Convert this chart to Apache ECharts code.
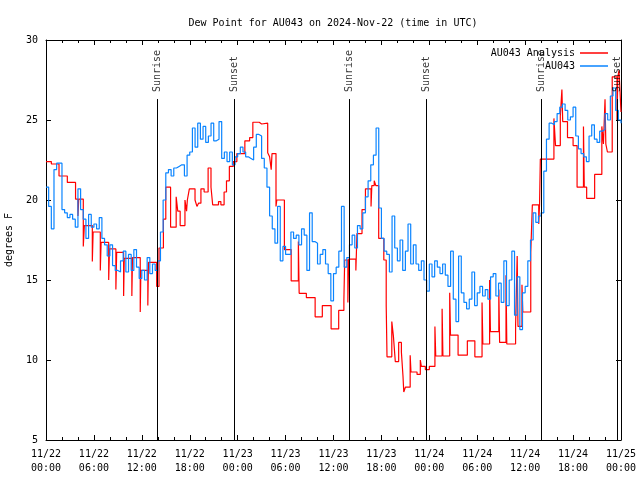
<!DOCTYPE html>
<html>
<head>
<meta charset="utf-8">
<script src="https://cdn.jsdelivr.net/npm/echarts@6/dist/echarts.min.js"></script>
<style>html,body{margin:0;padding:0;background:#fff}#c{width:640px;height:480px}</style>
</head>
<body>
<div id="c"></div>
<script>
// ---- data ----
const titleText = 'Dew Point for AU043 on 2024-Nov-22 (time in UTC)';
const xTickLabels = ['11/22\n00:00','11/22\n06:00','11/22\n12:00','11/22\n18:00','11/23\n00:00','11/23\n06:00','11/23\n12:00','11/23\n18:00','11/24\n00:00','11/24\n06:00','11/24\n12:00','11/24\n18:00','11/25\n00:00'];
const yTicks = [5,10,15,20,25,30];
// red analysis: step change points (hours since 11/22 00:00 UTC) and values
const redHours = [0,0.67,1.63,2.67,3.7,4.0,4.1,4.67,4.8,5.8,5.9,6.8,6.9,7.85,7.95,8.75,8.85,9.72,9.8,10.75,10.83,11.8,11.88,12.75,12.83,13.86,14.15,14.7,15.0,15.6,16.3,16.5,16.8,17.4,17.6,17.7,17.95,18.66,18.9,19.1,19.4,19.8,20.3,20.66,20.87,21.6,21.9,22.3,22.6,22.96,23.45,23.9,24.9,25.5,25.9,26.7,27.0,27.76,28.0,28.2,28.3,28.8,28.9,29.85,30.7,31.6,31.7,32.6,33.7,34.6,35.7,36.65,37.3,37.4,37.8,37.9,38.8,38.94,39.57,40.0,40.7,40.8,41.1,41.3,41.66,42.3,42.6,42.7,43.3,43.5,43.74,44.16,44.5,44.7,44.8,45.0,45.6,45.7,46.46,46.87,47.0,47.5,48.0,48.7,48.8,49.6,49.7,50.55,50.65,51.6,52.76,53.7,54.6,54.7,55.55,55.65,56.7,56.8,57.6,57.7,58.8,59.0,59.1,59.6,59.7,60.7,60.9,61.7,61.8,61.9,63.6,63.8,64.4,64.6,64.7,65.3,66.0,66.5,67.3,67.4,67.7,68.7,69.6,69.8,70.0,70.1,70.3,70.9,71.5,71.6,71.75,72];
const redVals = [22.4,22.25,21.5,21.1,20.06,19.0,20.06,17.1,18.4,16.15,18.0,15.6,17.35,15.0,16.94,14.4,16.73,14.0,16.35,14.0,16.4,13.0,15.6,13.4,16.1,14.6,17.0,18.8,20.8,18.3,20.2,19.3,18.4,20.0,19.3,20.0,20.7,20.0,19.6,19.8,20.7,20.5,22.0,20.8,19.7,19.9,19.7,20.5,21.2,22.1,22.4,22.9,23.7,23.9,24.86,24.75,24.8,22.96,22.7,21.9,22.9,19.6,20.0,16.9,14.94,17.4,14.17,13.9,12.7,13.4,11.94,13.1,13.75,16.25,13.6,16.3,15.6,17.9,19.4,20.7,19.6,20.9,21.2,20.9,17.6,16.25,13.4,10.2,12.4,11.5,9.9,11.1,10.5,9.0,8.0,8.3,10.3,9.25,9.1,10.0,9.6,9.4,9.6,12.1,10.25,13.2,10.25,14.2,11.56,10.3,11.2,10.2,13.6,11.0,15.0,11.77,14.4,11.1,15.3,11.0,12.1,16.5,12.1,14.7,13.0,16.7,19.7,18.5,19.7,22.56,25.1,23.4,25.25,26.9,24.9,23.9,23.4,20.8,24.6,20.8,20.1,21.6,24.6,23.5,26.3,23.5,23.0,27.7,25.0,27.7,28.1,25.5];
// blue observations: one value every 20 minutes from 11/22 00:00
const blueStepHours = 1/3;
const blueVals = [
20.8,19.6,18.2, 21.9,22.3,22.3, 19.4,19.2,18.9, 19.1,18.8,18.3, 20.7,19.4,18.8, 17.6,19.1,18.3,
18.5,18.2,18.9, 17.6,17.2,16.5, 17.2,15.9,15.6, 15.5,16.2,16.8, 15.5,16.6,15.6, 16.9,15.8,15.1,
15.6,15.0,16.4, 15.4,16.0,15.6, 16.2,18.0,20.0, 21.7,21.9,21.5, 22.0,22.1,22.2, 22.2,21.5,22.8,
23.0,24.5,23.3, 24.8,23.8,24.6, 23.6,24.0,24.8, 23.7,23.8,24.9, 22.6,23.0,22.4, 23.0,22.2,22.7,
22.9,23.3,23.0, 22.7,22.6,22.5, 23.3,24.1,24.0, 22.6,22.0,20.8, 19.0,18.2,17.3, 19.6,16.2,17.1,
16.6,16.6,18.0, 17.6,17.8,17.2, 18.2,17.8,15.6, 19.2,17.4,17.3, 16.0,16.6,16.9, 16.0,15.4,13.7,
15.4,15.8,16.8, 19.6,15.8,16.4, 17.2,17.8,17.0, 18.4,18.2,19.2, 20.2,21.2,22.2, 22.8,24.5,19.5,
17.6,16.8,16.6, 15.5,19.0,17.0, 16.2,17.5,15.6, 16.8,18.5,16.0, 17.2,16.0,15.6, 16.2,15.0,14.3,
16.0,15.2,16.2, 15.8,15.4,16.0, 15.3,14.6,16.8, 13.8,12.4,16.5, 14.2,13.6,13.2, 13.8,15.5,13.4,
14.2,14.6,14.0, 14.4,13.8,15.2, 15.4,14.0,14.8, 13.6,16.2,13.4, 15.0,16.8,12.8, 15.2,11.9,14.2,
14.6,16.2,17.5, 19.2,18.6,19.0, 19.2,21.8,23.8, 24.8,24.7,24.9, 25.4,25.8,26.0, 25.6,25.0,25.2,
25.8,24.0,23.2, 22.9,22.7,22.4, 24.0,24.7,23.8, 23.6,24.3,24.4, 25.4,25.0,26.5, 27.0,25.6,25.0,
24.8];
const sunHours = [13.94, 23.6, 38.0, 47.65, 62.0, 71.55];
const sunNames = ['Sunrise','Sunset','Sunrise','Sunset','Sunrise','Sunset'];
const seriesNames = ['AU043 Analysis','AU043'];

// ---- chart ----
const FONT = 'DejaVu Sans Mono';
const redData = redHours.map((h,i)=>[h, redVals[i]]);
const blueData = blueVals.map((v,i)=>[i*blueStepHours, v]);
const LINE_TOP = 26.31, LABEL_Y = 26.75;

const xBase = {
  type:'value', min:0, max:72, interval:6,
  axisLine:{show:true, onZero:false, lineStyle:{color:'#000', width:1}},
  axisTick:{show:true, inside:true, length:5, lineStyle:{color:'#000'}},
  minorTick:{show:true, splitNumber:3, length:3, lineStyle:{color:'#000'}},
  splitLine:{show:false}, minorSplitLine:{show:false}
};
const yBase = {
  type:'value', min:5, max:30, interval:5,
  axisLine:{show:true, onZero:false, lineStyle:{color:'#000', width:1}},
  axisTick:{show:true, inside:true, length:5, lineStyle:{color:'#000'}},
  splitLine:{show:false}
};

const chart = echarts.init(document.getElementById('c'), null, {renderer:'canvas'});
chart.setOption({
  animation:false,
  backgroundColor:'#fff',
  title:{text:titleText, left:328, top:13, textAlign:'center',
    textStyle:{fontFamily:FONT, fontSize:10, fontWeight:'normal', color:'#000'}},
  grid:{left:46, right:19, top:40, bottom:40, containLabel:false, outerBoundsMode:'none'},
  legend:[
    {data:[seriesNames[0]], right:27, top:43, orient:'vertical', align:'right', icon:'rect',
     itemWidth:28, itemHeight:1.5, selectedMode:false,
     textStyle:{fontFamily:FONT, fontSize:10, color:'#000'}},
    {data:[seriesNames[1]], right:27, top:56, orient:'vertical', align:'right', icon:'rect',
     itemWidth:28, itemHeight:1.5, selectedMode:false,
     textStyle:{fontFamily:FONT, fontSize:10, color:'#000'}}
  ],
  xAxis:[
    Object.assign({}, xBase, {position:'bottom',
      axisLabel:{show:true, margin:7, fontFamily:FONT, fontSize:10, color:'#000', lineHeight:14,
        formatter:(v)=>xTickLabels[Math.round(v/6)]}}),
    Object.assign({}, xBase, {position:'top', axisLabel:{show:false}})
  ],
  yAxis:[
    Object.assign({}, yBase, {position:'left', name:'degrees F', nameLocation:'middle', nameGap:32, nameRotate:90,
      nameTextStyle:{fontFamily:FONT, fontSize:10, color:'#000'},
      axisLabel:{show:true, margin:8, fontFamily:FONT, fontSize:10, color:'#000',
        formatter:(v)=>String(yTicks[yTicks.indexOf(v)])}}),
    Object.assign({}, yBase, {position:'right', axisLabel:{show:false}})
  ],
  series:[
    {name:seriesNames[0], type:'line', step:'end', data:redData, showSymbol:false, symbol:'none',
     color:'#ff0000', lineStyle:{color:'#ff0000', width:1.2}, silent:true, z:2},
    {name:seriesNames[1], type:'line', step:'end', data:blueData, showSymbol:false, symbol:'none',
     color:'#0a84ff', lineStyle:{color:'#0a84ff', width:1.2}, silent:true, z:3},
    {name:'sun', type:'scatter', symbolSize:0, silent:true, z:4,
     data:sunHours.map((h,i)=>({value:[h, LABEL_Y], name:sunNames[i]})),
     label:{show:true, formatter:(p)=>p.name, rotate:90, position:[0,0], align:'left', verticalAlign:'middle',
       fontFamily:FONT, fontSize:10, color:'#000'},
     markLine:{silent:true, symbol:['none','none'], label:{show:false},
       lineStyle:{color:'#000', width:1, type:'solid'},
       data:sunHours.map(h=>[{coord:[h,5]},{coord:[h,LINE_TOP]}])}}
  ]
});
</script>
</body>
</html>
